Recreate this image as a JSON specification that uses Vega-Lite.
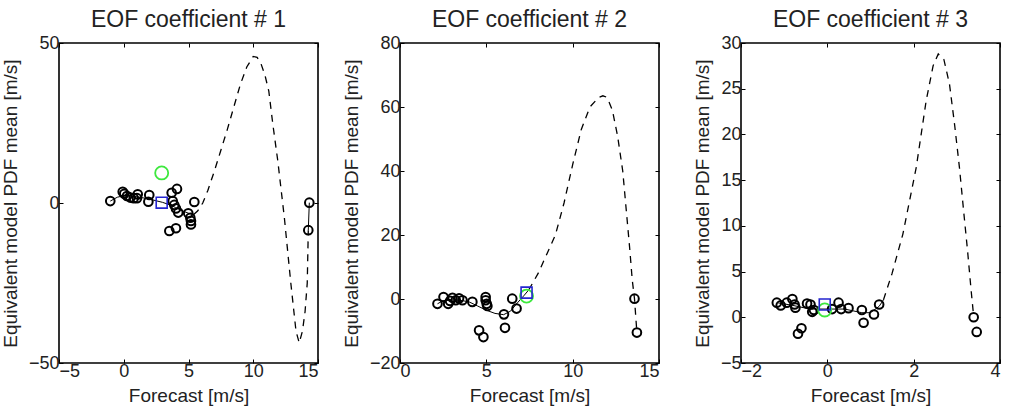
{
  "$schema": "https://vega.github.io/schema/vega-lite/v6.json",
  "background": "white",
  "padding": {"left": 0, "top": 8, "right": 4, "bottom": 0},
  "spacing": 82,
  "bounds": "flush",
  "datasets": {
    "p1": [
      {"kind": "fit", "seg": "a", "x": -1.04, "y": 0.6},
      {"kind": "fit", "seg": "a", "x": -0.5, "y": 1.8},
      {"kind": "fit", "seg": "a", "x": 0, "y": 2.3},
      {"kind": "fit", "seg": "a", "x": 0.5, "y": 2.3},
      {"kind": "fit", "seg": "a", "x": 1, "y": 2},
      {"kind": "fit", "seg": "a", "x": 1.5, "y": 1.6},
      {"kind": "fit", "seg": "a", "x": 2, "y": 1.2},
      {"kind": "fit", "seg": "a", "x": 2.5, "y": 0.7},
      {"kind": "fit", "seg": "a", "x": 3, "y": 0.2},
      {"kind": "fit", "seg": "a", "x": 3.5, "y": -0.5},
      {"kind": "fit", "seg": "a", "x": 4, "y": -1.4},
      {"kind": "fit", "seg": "a", "x": 4.5, "y": -2.4},
      {"kind": "fit", "seg": "a", "x": 5, "y": -3.2},
      {"kind": "fit", "seg": "a", "x": 5.4, "y": -3.6},
      {"kind": "fit", "seg": "b", "x": 14.25, "y": -8.5},
      {"kind": "fit", "seg": "b", "x": 14.33, "y": 0.1},
      {"kind": "dash", "x": 5.4, "y": -3.6},
      {"kind": "dash", "x": 5.7, "y": -2.5},
      {"kind": "dash", "x": 6.1, "y": 0},
      {"kind": "dash", "x": 6.5, "y": 4},
      {"kind": "dash", "x": 7, "y": 10},
      {"kind": "dash", "x": 7.5, "y": 16.5},
      {"kind": "dash", "x": 8, "y": 23},
      {"kind": "dash", "x": 8.5, "y": 30},
      {"kind": "dash", "x": 9, "y": 37},
      {"kind": "dash", "x": 9.5, "y": 42.5},
      {"kind": "dash", "x": 10, "y": 45.8},
      {"kind": "dash", "x": 10.3, "y": 45.5},
      {"kind": "dash", "x": 10.6, "y": 43.5},
      {"kind": "dash", "x": 10.9, "y": 40},
      {"kind": "dash", "x": 11.2, "y": 35},
      {"kind": "dash", "x": 11.5, "y": 25},
      {"kind": "dash", "x": 11.9, "y": 13},
      {"kind": "dash", "x": 12.4, "y": -4.5},
      {"kind": "dash", "x": 12.9, "y": -25},
      {"kind": "dash", "x": 13.3, "y": -40},
      {"kind": "dash", "x": 13.55, "y": -43.7},
      {"kind": "dash", "x": 13.8, "y": -40},
      {"kind": "dash", "x": 14.0, "y": -34},
      {"kind": "dash", "x": 14.17, "y": -25},
      {"kind": "dash", "x": 14.25, "y": -8.5},
      {"kind": "obs", "x": -1.04, "y": 0.6},
      {"kind": "obs", "x": -0.08, "y": 3.5},
      {"kind": "obs", "x": 0.04, "y": 2.9},
      {"kind": "obs", "x": 0.25, "y": 2.2},
      {"kind": "obs", "x": 0.51, "y": 1.7},
      {"kind": "obs", "x": 0.77, "y": 1.5},
      {"kind": "obs", "x": 1.08, "y": 2.7},
      {"kind": "obs", "x": 1.02, "y": 1.5},
      {"kind": "obs", "x": 1.97, "y": 2.5},
      {"kind": "obs", "x": 1.9, "y": 0.4},
      {"kind": "obs", "x": 3.7, "y": 3.2},
      {"kind": "obs", "x": 4.11, "y": 4.4},
      {"kind": "obs", "x": 3.78, "y": 0.6},
      {"kind": "obs", "x": 3.9, "y": -0.6},
      {"kind": "obs", "x": 4.03, "y": -1.7},
      {"kind": "obs", "x": 4.21, "y": -3.0},
      {"kind": "obs", "x": 5.45, "y": 0.3},
      {"kind": "obs", "x": 4.98, "y": -3.2},
      {"kind": "obs", "x": 5.14, "y": -4.6},
      {"kind": "obs", "x": 5.19, "y": -5.6},
      {"kind": "obs", "x": 5.19, "y": -6.7},
      {"kind": "obs", "x": 3.52, "y": -8.75},
      {"kind": "obs", "x": 4.03, "y": -7.9},
      {"kind": "obs", "x": 14.33, "y": 0.1},
      {"kind": "obs", "x": 14.25, "y": -8.5},
      {"kind": "truth", "x": 2.93, "y": 9.4},
      {"kind": "mean", "x": 2.93, "y": 0.1}
    ],
    "p2": [
      {"kind": "fit", "seg": "a", "x": 2.17, "y": -1.5},
      {"kind": "fit", "seg": "a", "x": 2.5, "y": -0.5},
      {"kind": "fit", "seg": "a", "x": 3, "y": -0.3},
      {"kind": "fit", "seg": "a", "x": 3.5, "y": -0.4},
      {"kind": "fit", "seg": "a", "x": 4, "y": -0.9},
      {"kind": "fit", "seg": "a", "x": 4.5, "y": -2.2},
      {"kind": "fit", "seg": "a", "x": 5, "y": -3.5},
      {"kind": "fit", "seg": "a", "x": 5.5, "y": -4.5},
      {"kind": "fit", "seg": "a", "x": 6, "y": -4.9},
      {"kind": "fit", "seg": "a", "x": 6.4, "y": -3.8},
      {"kind": "fit", "seg": "a", "x": 6.8, "y": -1.2},
      {"kind": "fit", "seg": "a", "x": 7.2, "y": 1.2},
      {"kind": "fit", "seg": "a", "x": 7.45, "y": 2.8},
      {"kind": "dash", "x": 7.45, "y": 2.8},
      {"kind": "dash", "x": 8, "y": 8},
      {"kind": "dash", "x": 8.5, "y": 14},
      {"kind": "dash", "x": 9, "y": 20},
      {"kind": "dash", "x": 9.5, "y": 30},
      {"kind": "dash", "x": 10, "y": 42},
      {"kind": "dash", "x": 10.5, "y": 53},
      {"kind": "dash", "x": 11, "y": 60},
      {"kind": "dash", "x": 11.5, "y": 63},
      {"kind": "dash", "x": 11.75, "y": 63.5},
      {"kind": "dash", "x": 12, "y": 63},
      {"kind": "dash", "x": 12.3, "y": 59},
      {"kind": "dash", "x": 12.6, "y": 51},
      {"kind": "dash", "x": 12.9, "y": 40},
      {"kind": "dash", "x": 13.1, "y": 28},
      {"kind": "dash", "x": 13.3, "y": 16},
      {"kind": "dash", "x": 13.45, "y": 6},
      {"kind": "dash", "x": 13.58, "y": 0.1},
      {"kind": "dash", "x": 13.72, "y": -10.5},
      {"kind": "obs", "x": 2.17, "y": -1.5},
      {"kind": "obs", "x": 2.52, "y": 0.6},
      {"kind": "obs", "x": 2.79, "y": -1.5},
      {"kind": "obs", "x": 2.9, "y": -0.6},
      {"kind": "obs", "x": 3.04, "y": 0.4},
      {"kind": "obs", "x": 3.23, "y": -0.4},
      {"kind": "obs", "x": 3.42, "y": 0.2},
      {"kind": "obs", "x": 3.62, "y": -0.4},
      {"kind": "obs", "x": 4.19, "y": -0.9},
      {"kind": "obs", "x": 4.96, "y": 0.6},
      {"kind": "obs", "x": 4.96, "y": -0.4},
      {"kind": "obs", "x": 5.02, "y": -1.5},
      {"kind": "obs", "x": 5.06, "y": -2.2},
      {"kind": "obs", "x": 6.02, "y": -4.8},
      {"kind": "obs", "x": 6.5, "y": 0.1},
      {"kind": "obs", "x": 6.75, "y": -3.0},
      {"kind": "obs", "x": 6.08, "y": -9.0},
      {"kind": "obs", "x": 4.58, "y": -9.8},
      {"kind": "obs", "x": 4.83, "y": -11.9},
      {"kind": "obs", "x": 13.58, "y": 0.1},
      {"kind": "obs", "x": 13.72, "y": -10.5},
      {"kind": "truth", "x": 7.33, "y": 0.9},
      {"kind": "mean", "x": 7.33, "y": 2.0}
    ],
    "p3": [
      {"kind": "fit", "seg": "a", "x": -1.17, "y": 1.6},
      {"kind": "fit", "seg": "a", "x": -0.8, "y": 1.3},
      {"kind": "fit", "seg": "a", "x": -0.4, "y": 0.9},
      {"kind": "fit", "seg": "a", "x": 0, "y": 0.9},
      {"kind": "fit", "seg": "a", "x": 0.4, "y": 0.9},
      {"kind": "fit", "seg": "a", "x": 0.8, "y": 0.5},
      {"kind": "fit", "seg": "a", "x": 1.0, "y": 0.5},
      {"kind": "fit", "seg": "a", "x": 1.2, "y": 1.2},
      {"kind": "fit", "seg": "a", "x": 1.3, "y": 1.9},
      {"kind": "dash", "x": 1.3, "y": 1.9},
      {"kind": "dash", "x": 1.5, "y": 4.8},
      {"kind": "dash", "x": 1.75, "y": 9.1},
      {"kind": "dash", "x": 2.06, "y": 16.4},
      {"kind": "dash", "x": 2.29, "y": 23.7},
      {"kind": "dash", "x": 2.45, "y": 27.5},
      {"kind": "dash", "x": 2.57, "y": 28.8},
      {"kind": "dash", "x": 2.7, "y": 28.2},
      {"kind": "dash", "x": 2.83, "y": 25.5},
      {"kind": "dash", "x": 2.95, "y": 21},
      {"kind": "dash", "x": 3.06, "y": 16.4},
      {"kind": "dash", "x": 3.16, "y": 11.5},
      {"kind": "dash", "x": 3.25, "y": 7.2},
      {"kind": "dash", "x": 3.33, "y": 3},
      {"kind": "dash", "x": 3.39, "y": 0.1},
      {"kind": "obs", "x": -1.17, "y": 1.6},
      {"kind": "obs", "x": -1.08, "y": 1.3},
      {"kind": "obs", "x": -0.94, "y": 1.6},
      {"kind": "obs", "x": -0.81, "y": 2.0},
      {"kind": "obs", "x": -0.76, "y": 1.4},
      {"kind": "obs", "x": -0.74, "y": 1.05},
      {"kind": "obs", "x": -0.47, "y": 1.5},
      {"kind": "obs", "x": -0.39, "y": 1.4},
      {"kind": "obs", "x": -0.35, "y": 0.6},
      {"kind": "obs", "x": -0.31, "y": 0.8},
      {"kind": "obs", "x": 0.11, "y": 0.9},
      {"kind": "obs", "x": 0.26, "y": 1.6},
      {"kind": "obs", "x": 0.32, "y": 0.9},
      {"kind": "obs", "x": 0.49, "y": 1.0},
      {"kind": "obs", "x": 0.8, "y": 0.8},
      {"kind": "obs", "x": 0.84, "y": -0.6},
      {"kind": "obs", "x": 1.08, "y": 0.3},
      {"kind": "obs", "x": 1.2, "y": 1.4},
      {"kind": "obs", "x": -0.68, "y": -1.8},
      {"kind": "obs", "x": -0.6, "y": -1.2},
      {"kind": "obs", "x": 3.39, "y": 0.0},
      {"kind": "obs", "x": 3.46, "y": -1.6},
      {"kind": "truth", "x": -0.06, "y": 0.8},
      {"kind": "mean", "x": -0.06, "y": 1.4}
    ]
  },
  "config": {
    "font": "Liberation Sans",
    "view": {"stroke": "#000", "strokeWidth": 1.6},
    "axis": {
      "grid": false,
      "domain": false,
      "tickColor": "#000",
      "tickSize": -4,
      "tickWidth": 1,
      "labelFont": "Liberation Sans",
      "labelFontSize": 18,
      "labelColor": "#222",
      "labelPadding": 4,
      "titleFont": "Liberation Sans",
      "titleFontSize": 19,
      "titleFontWeight": "normal",
      "titleColor": "#222"
    },
    "axisBottom": {"labelPadding": 3, "titlePadding": 6},
    "axisLeft": {"labelPadding": 4, "titlePadding": 8},
    "title": {"font": "Liberation Sans", "fontSize": 23, "fontWeight": "normal", "color": "#222", "offset": 2}
  },
  "hconcat": [
    {
      "width": 259, "height": 320,
      "title": "EOF coefficient # 1",
      "data": {"name": "p1"},
      "resolve": {"axis": {"x": "independent", "y": "independent"}},
      "layer": [
        {
          "transform": [{"filter": "datum.kind === 'fit'"}],
          "mark": {"type": "line", "color": "#000", "strokeWidth": 1},
          "encoding": {
            "x": {"field": "x", "type": "quantitative", "scale": {"domain": [-5, 15], "nice": false, "zero": false}, "axis": {"orient": "bottom", "values": [-5, 0, 5, 10, 15], "title": "Forecast [m/s]"}},
            "y": {"field": "y", "type": "quantitative", "scale": {"domain": [-50, 50], "nice": false, "zero": false}, "axis": {"orient": "left", "values": [-50, 0, 50], "title": "Equivalent model PDF mean [m/s]"}},
            "detail": {"field": "seg"}
          }
        },
        {
          "transform": [{"filter": "datum.kind === 'dash'"}],
          "mark": {"type": "line", "color": "#000", "strokeWidth": 1.3, "strokeDash": [7, 6]},
          "encoding": {
            "x": {"field": "x", "type": "quantitative", "scale": {"domain": [-5, 15], "nice": false, "zero": false}, "axis": {"orient": "top", "values": [-5, 0, 5, 10, 15], "labels": false, "title": null}},
            "y": {"field": "y", "type": "quantitative", "scale": {"domain": [-50, 50], "nice": false, "zero": false}, "axis": {"orient": "right", "values": [-50, 0, 50], "labels": false, "title": null}}
          }
        },
        {
          "transform": [{"filter": "datum.kind === 'obs'"}],
          "mark": {"type": "point", "shape": "circle", "filled": false, "color": "#000", "size": 75, "strokeWidth": 2, "opacity": 1},
          "encoding": {
            "x": {"field": "x", "type": "quantitative", "scale": {"domain": [-5, 15], "nice": false, "zero": false}, "axis": null},
            "y": {"field": "y", "type": "quantitative", "scale": {"domain": [-50, 50], "nice": false, "zero": false}, "axis": null}
          }
        },
        {
          "transform": [{"filter": "datum.kind === 'truth'"}],
          "mark": {"type": "point", "shape": "circle", "filled": false, "color": "#3ee83e", "size": 170, "strokeWidth": 1.8, "opacity": 1},
          "encoding": {
            "x": {"field": "x", "type": "quantitative", "scale": {"domain": [-5, 15], "nice": false, "zero": false}, "axis": null},
            "y": {"field": "y", "type": "quantitative", "scale": {"domain": [-50, 50], "nice": false, "zero": false}, "axis": null}
          }
        },
        {
          "transform": [{"filter": "datum.kind === 'mean'"}],
          "mark": {"type": "point", "shape": "square", "filled": false, "color": "#2424d0", "size": 120, "strokeWidth": 1.6, "opacity": 1},
          "encoding": {
            "x": {"field": "x", "type": "quantitative", "scale": {"domain": [-5, 15], "nice": false, "zero": false}, "axis": null},
            "y": {"field": "y", "type": "quantitative", "scale": {"domain": [-50, 50], "nice": false, "zero": false}, "axis": null}
          }
        }
      ]
    },
    {
      "width": 259, "height": 320,
      "title": "EOF coefficient # 2",
      "data": {"name": "p2"},
      "resolve": {"axis": {"x": "independent", "y": "independent"}},
      "layer": [
        {
          "transform": [{"filter": "datum.kind === 'fit'"}],
          "mark": {"type": "line", "color": "#000", "strokeWidth": 1},
          "encoding": {
            "x": {"field": "x", "type": "quantitative", "scale": {"domain": [0, 15], "nice": false, "zero": false}, "axis": {"orient": "bottom", "values": [0, 5, 10, 15], "title": "Forecast [m/s]"}},
            "y": {"field": "y", "type": "quantitative", "scale": {"domain": [-20, 80], "nice": false, "zero": false}, "axis": {"orient": "left", "values": [-20, 0, 20, 40, 60, 80], "title": "Equivalent model PDF mean [m/s]"}},
            "detail": {"field": "seg"}
          }
        },
        {
          "transform": [{"filter": "datum.kind === 'dash'"}],
          "mark": {"type": "line", "color": "#000", "strokeWidth": 1.3, "strokeDash": [7, 6]},
          "encoding": {
            "x": {"field": "x", "type": "quantitative", "scale": {"domain": [0, 15], "nice": false, "zero": false}, "axis": {"orient": "top", "values": [0, 5, 10, 15], "labels": false, "title": null}},
            "y": {"field": "y", "type": "quantitative", "scale": {"domain": [-20, 80], "nice": false, "zero": false}, "axis": {"orient": "right", "values": [-20, 0, 20, 40, 60, 80], "labels": false, "title": null}}
          }
        },
        {
          "transform": [{"filter": "datum.kind === 'obs'"}],
          "mark": {"type": "point", "shape": "circle", "filled": false, "color": "#000", "size": 75, "strokeWidth": 2, "opacity": 1},
          "encoding": {
            "x": {"field": "x", "type": "quantitative", "scale": {"domain": [0, 15], "nice": false, "zero": false}, "axis": null},
            "y": {"field": "y", "type": "quantitative", "scale": {"domain": [-20, 80], "nice": false, "zero": false}, "axis": null}
          }
        },
        {
          "transform": [{"filter": "datum.kind === 'truth'"}],
          "mark": {"type": "point", "shape": "circle", "filled": false, "color": "#3ee83e", "size": 170, "strokeWidth": 1.8, "opacity": 1},
          "encoding": {
            "x": {"field": "x", "type": "quantitative", "scale": {"domain": [0, 15], "nice": false, "zero": false}, "axis": null},
            "y": {"field": "y", "type": "quantitative", "scale": {"domain": [-20, 80], "nice": false, "zero": false}, "axis": null}
          }
        },
        {
          "transform": [{"filter": "datum.kind === 'mean'"}],
          "mark": {"type": "point", "shape": "square", "filled": false, "color": "#2424d0", "size": 120, "strokeWidth": 1.6, "opacity": 1},
          "encoding": {
            "x": {"field": "x", "type": "quantitative", "scale": {"domain": [0, 15], "nice": false, "zero": false}, "axis": null},
            "y": {"field": "y", "type": "quantitative", "scale": {"domain": [-20, 80], "nice": false, "zero": false}, "axis": null}
          }
        }
      ]
    },
    {
      "width": 259, "height": 320,
      "title": "EOF coefficient # 3",
      "data": {"name": "p3"},
      "resolve": {"axis": {"x": "independent", "y": "independent"}},
      "layer": [
        {
          "transform": [{"filter": "datum.kind === 'fit'"}],
          "mark": {"type": "line", "color": "#000", "strokeWidth": 1},
          "encoding": {
            "x": {"field": "x", "type": "quantitative", "scale": {"domain": [-2, 4], "nice": false, "zero": false}, "axis": {"orient": "bottom", "values": [-2, 0, 2, 4], "title": "Forecast [m/s]"}},
            "y": {"field": "y", "type": "quantitative", "scale": {"domain": [-5, 30], "nice": false, "zero": false}, "axis": {"orient": "left", "values": [-5, 0, 5, 10, 15, 20, 25, 30], "title": "Equivalent model PDF mean [m/s]"}},
            "detail": {"field": "seg"}
          }
        },
        {
          "transform": [{"filter": "datum.kind === 'dash'"}],
          "mark": {"type": "line", "color": "#000", "strokeWidth": 1.3, "strokeDash": [7, 6]},
          "encoding": {
            "x": {"field": "x", "type": "quantitative", "scale": {"domain": [-2, 4], "nice": false, "zero": false}, "axis": {"orient": "top", "values": [-2, 0, 2, 4], "labels": false, "title": null}},
            "y": {"field": "y", "type": "quantitative", "scale": {"domain": [-5, 30], "nice": false, "zero": false}, "axis": {"orient": "right", "values": [-5, 0, 5, 10, 15, 20, 25, 30], "labels": false, "title": null}}
          }
        },
        {
          "transform": [{"filter": "datum.kind === 'obs'"}],
          "mark": {"type": "point", "shape": "circle", "filled": false, "color": "#000", "size": 75, "strokeWidth": 2, "opacity": 1},
          "encoding": {
            "x": {"field": "x", "type": "quantitative", "scale": {"domain": [-2, 4], "nice": false, "zero": false}, "axis": null},
            "y": {"field": "y", "type": "quantitative", "scale": {"domain": [-5, 30], "nice": false, "zero": false}, "axis": null}
          }
        },
        {
          "transform": [{"filter": "datum.kind === 'truth'"}],
          "mark": {"type": "point", "shape": "circle", "filled": false, "color": "#3ee83e", "size": 170, "strokeWidth": 1.8, "opacity": 1},
          "encoding": {
            "x": {"field": "x", "type": "quantitative", "scale": {"domain": [-2, 4], "nice": false, "zero": false}, "axis": null},
            "y": {"field": "y", "type": "quantitative", "scale": {"domain": [-5, 30], "nice": false, "zero": false}, "axis": null}
          }
        },
        {
          "transform": [{"filter": "datum.kind === 'mean'"}],
          "mark": {"type": "point", "shape": "square", "filled": false, "color": "#2424d0", "size": 120, "strokeWidth": 1.6, "opacity": 1},
          "encoding": {
            "x": {"field": "x", "type": "quantitative", "scale": {"domain": [-2, 4], "nice": false, "zero": false}, "axis": null},
            "y": {"field": "y", "type": "quantitative", "scale": {"domain": [-5, 30], "nice": false, "zero": false}, "axis": null}
          }
        }
      ]
    }
  ]
}
